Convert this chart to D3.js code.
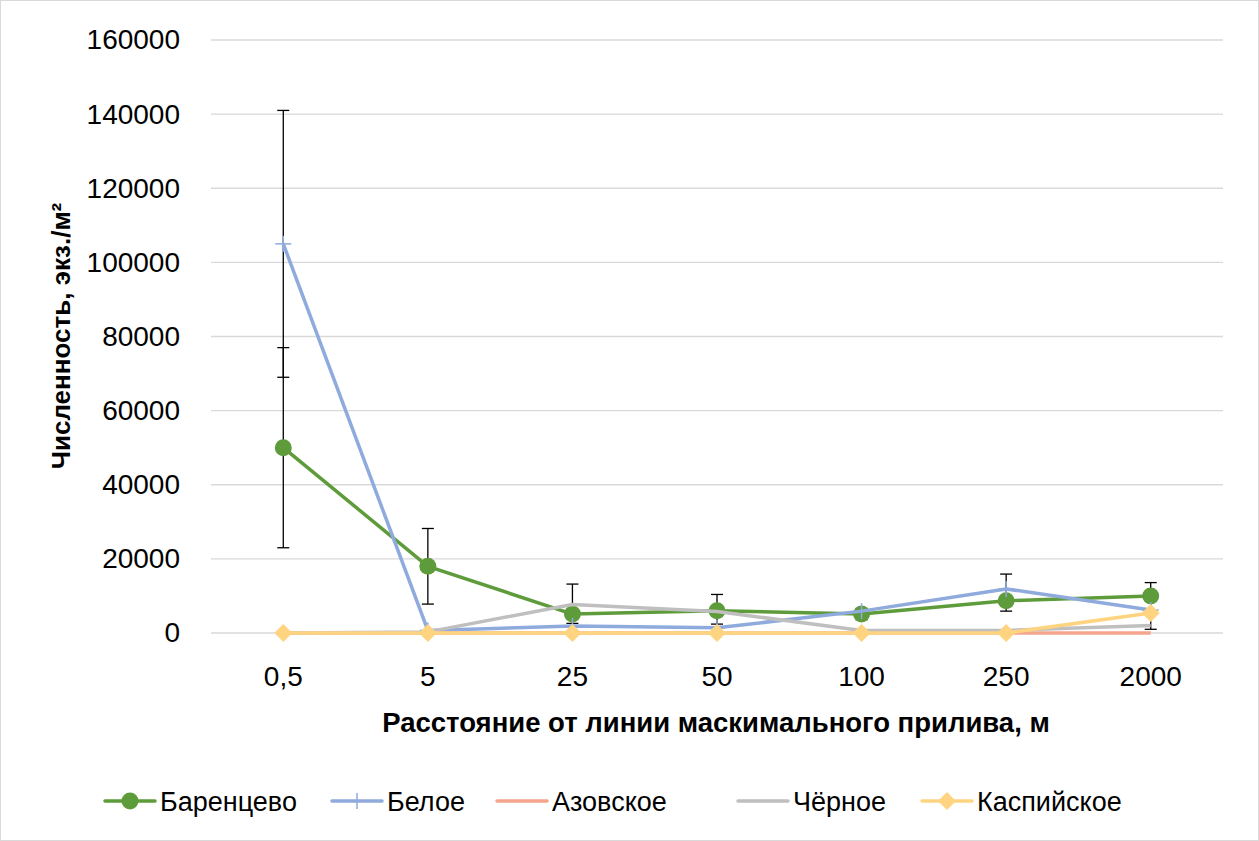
<!DOCTYPE html>
<html><head><meta charset="utf-8">
<script src="https://cdn.jsdelivr.net/npm/d3@7"></script>
<style>body{margin:0;background:#fff;} svg{display:block;}</style>
</head><body>
<svg id="c" width="1259" height="841"></svg>
<script>
const categories = ["0,5","5","25","50","100","250","2000"];
const yTicks = [0,20000,40000,60000,80000,100000,120000,140000,160000];
const barents = [50000,18000,5100,6000,5100,8700,10000];
const barentsErrPlus = [27000,10200,8100,4400,1500,7200,3600];
const barentsErrMinus = [27000,10200,2500,3600,1500,2800,9000];
const white = [105000,700,1900,1400,5900,11900,6200];
const whiteErrPlus = [36000,0,0,0,0,0,0];
const whiteErrMinus = [36000,0,0,0,0,0,0];
const azov = [0,0,0,0,0,0,0];
const black = [0,300,7700,5800,700,700,2000];
const caspian = [0,0,0,0,0,0,5400];
const seriesNames = ["Баренцево","Белое","Азовское","Чёрное","Каспийское"];
const colors = ["#5e9b3b","#8faadc","#f4a58c","#bfbfbf","#ffd480"];
const markers = ["circle","plus","none","none","diamond"];

const svg = d3.select("#c");
const font = "'Liberation Sans', Arial, sans-serif";
svg.append("rect").attr("x",0.5).attr("y",0.5).attr("width",1258).attr("height",840)
  .attr("fill","#fff").attr("stroke","#d9d9d9");

const x = d3.scaleBand().domain(categories).range([211,1223]);
const y = d3.scaleLinear().domain([0,160000]).range([633,40]);

// gridlines
svg.append("g").selectAll("line").data(yTicks).join("line")
  .attr("x1",211).attr("x2",1223)
  .attr("y1",d=>y(d)).attr("y2",d=>y(d))
  .attr("stroke","#d9d9d9").attr("stroke-width",1.3);

// y axis
const yAxis = svg.append("g").attr("transform","translate(211,0)")
  .call(d3.axisLeft(y).tickValues(yTicks).tickFormat(d=>String(d)).tickSize(0).tickPadding(31));
yAxis.select(".domain").remove();
yAxis.selectAll("text").attr("font-family",font).attr("font-size",28).attr("fill","#000");

// x axis
const xAxis = svg.append("g").attr("transform","translate(0,633)")
  .call(d3.axisBottom(x).tickSize(0).tickPadding(33));
xAxis.select(".domain").remove();
xAxis.selectAll("text").attr("font-family",font).attr("font-size",28).attr("fill","#000");

// titles
svg.append("text").attr("x",716).attr("y",732).attr("text-anchor","middle")
  .attr("font-family",font).attr("font-weight","bold").attr("font-size",27.5)
  .text("Расстояние от линии маскимального прилива, м");
svg.append("text").attr("transform","translate(70,336) rotate(-90)").attr("text-anchor","middle")
  .attr("font-family",font).attr("font-weight","bold").attr("font-size",26)
  .text("Численность, экз./м²");

const cx = c => x(c) + x.bandwidth()/2;
const allSeries = [barents, white, azov, black, caspian];

// error bars
function errBars(vals, plus, minus){
  const g = svg.append("g").attr("stroke","#000").attr("stroke-width",1.3);
  categories.forEach((c,i)=>{
    if(!plus[i] && !minus[i]) return;
    const X = cx(c), top = y(vals[i]+plus[i]), bot = y(vals[i]-minus[i]);
    g.append("line").attr("x1",X).attr("x2",X).attr("y1",top).attr("y2",bot);
    g.append("line").attr("x1",X-6).attr("x2",X+6).attr("y1",top).attr("y2",top);
    g.append("line").attr("x1",X-6).attr("x2",X+6).attr("y1",bot).attr("y2",bot);
  });
}
errBars(barents, barentsErrPlus, barentsErrMinus);
errBars(white, whiteErrPlus, whiteErrMinus);

const line = d3.line().x((d,i)=>cx(categories[i])).y(d=>y(d));

function drawMarker(g, type, X, Y, col){
  if(type==="circle") g.append("circle").attr("cx",X).attr("cy",Y).attr("r",8.5).attr("fill",col);
  else if(type==="diamond") g.append("path").attr("d",`M${X},${Y-9}L${X+9},${Y}L${X},${Y+9}L${X-9},${Y}Z`).attr("fill",col);
  else if(type==="plus"){
    g.append("line").attr("x1",X-8).attr("x2",X+8).attr("y1",Y).attr("y2",Y).attr("stroke",col).attr("stroke-width",1.5);
    g.append("line").attr("x1",X).attr("x2",X).attr("y1",Y-8).attr("y2",Y+8).attr("stroke",col).attr("stroke-width",1.5);
  }
}

allSeries.forEach((vals,si)=>{
  const g = svg.append("g");
  g.append("path").datum(vals).attr("d",line).attr("fill","none")
    .attr("stroke",colors[si]).attr("stroke-width",3.5).attr("stroke-linejoin","round");
  vals.forEach((v,i)=>drawMarker(g, markers[si], cx(categories[i]), y(v), colors[si]));
});

// legend
const legendX = [105,332,497,738,922];
const lg = svg.append("g");
seriesNames.forEach((n,i)=>{
  const X0 = legendX[i], Y0 = 801;
  lg.append("line").attr("x1",X0).attr("x2",X0+50).attr("y1",Y0).attr("y2",Y0)
    .attr("stroke",colors[i]).attr("stroke-width",3.5).attr("stroke-linecap","round");
  drawMarker(lg, markers[i], X0+25, Y0, colors[i]);
  lg.append("text").attr("x",X0+55).attr("y",Y0+10).attr("font-family",font).attr("font-size",27)
    .attr("fill","#000").text(n);
});
</script>
</body></html>
